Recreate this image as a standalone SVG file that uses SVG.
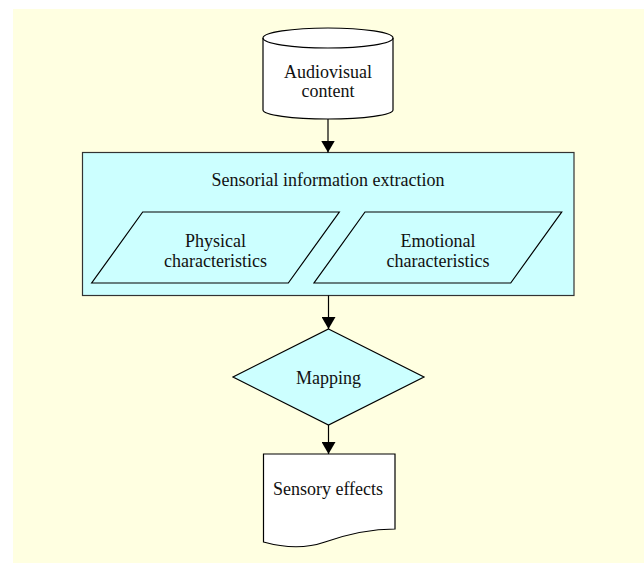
<svg xmlns="http://www.w3.org/2000/svg" width="644" height="563" viewBox="0 0 644 563">
<style>
.sh{stroke:#000;stroke-width:1.2}
.cy{fill:#ccffff}
.wh{fill:#fff}
text{font-family:"Liberation Serif","Times New Roman",serif;font-size:18px;fill:#111;text-anchor:middle}
.cn{stroke:#000;stroke-width:1.2;fill:none}
</style>
<defs>
<marker id="ah" viewBox="0 0 12 14" refX="12" refY="7" markerWidth="12" markerHeight="14" markerUnits="userSpaceOnUse" orient="auto">
<path d="M0,0 L12,7 L0,14 Z" fill="#000"/>
</marker>
</defs>
<rect x="13" y="9" width="631" height="554" fill="#ffffe1"/>
<g id="audiovisual">
<path class="sh wh" d="M263,38 L263,110 A65,9 0 0 0 393,110 L393,38 A65,10 0 0 0 263,38 Z"/>
<path class="sh" fill="none" d="M263,38 A65,10 0 0 0 393,38"/>
<text x="328" y="78">Audiovisual</text>
<text x="328" y="97">content</text>
</g>
<g id="extraction">
<rect class="cy" x="82.5" y="152.5" width="491.5" height="143" stroke="#333" stroke-width="1.2"/>
<text x="328" y="186">Sensorial information extraction</text>
</g>
<g id="physical">
<polygon class="sh cy" points="142.7,212 339.3,212 288.3,283 91.7,283"/>
<text x="215.5" y="247">Physical</text>
<text x="215.5" y="267">characteristics</text>
</g>
<g id="emotional">
<polygon class="sh cy" points="365,212 561.7,212 510.7,283 314,283"/>
<text x="438" y="247">Emotional</text>
<text x="438" y="267">characteristics</text>
</g>
<g id="mapping">
<polygon class="sh cy" points="328.5,329 424,377 328.5,425 233,377"/>
<text x="328.5" y="384">Mapping</text>
</g>
<g id="sensory">
<path class="sh wh" d="M263.5,454 L395,454 L395,529 C370,529 345,535 325,542 C305,549 285,548 263.5,542 Z"/>
<text x="328" y="495">Sensory effects</text>
</g>
<g id="connectors">
<line class="cn" x1="328" y1="119" x2="328" y2="152.5" marker-end="url(#ah)"/>
<line class="cn" x1="328.5" y1="295.5" x2="328.5" y2="329" marker-end="url(#ah)"/>
<line class="cn" x1="328.5" y1="425" x2="328.5" y2="454" marker-end="url(#ah)"/>
</g>
</svg>
